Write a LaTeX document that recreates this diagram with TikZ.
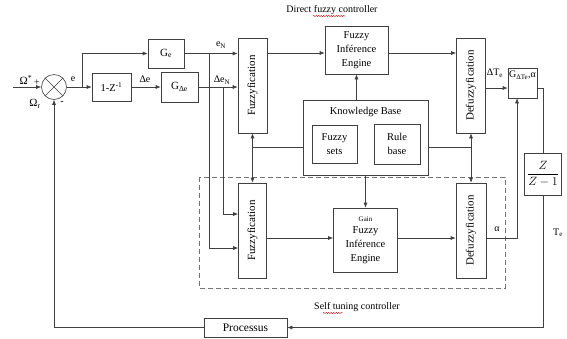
\documentclass[tikz,border=0pt]{standalone}
\usepackage{fontspec}
\setmainfont{Liberation Serif}
\usepackage{graphicx}
\usetikzlibrary{arrows.meta,decorations.pathmorphing}

\tikzset{
  blk/.style={draw=black!75, line width=0.6pt, inner sep=0pt, align=center, font=\fontsize{10.5}{14}\selectfont},
  vblk/.style={blk, minimum width=29pt, minimum height=95pt, font=\fontsize{11}{13}\selectfont},
  sig/.style={draw=black!75, line width=0.6pt},
  arr/.style={sig, -{Latex[length=5pt,width=4pt]}},
  darr/.style={sig, {Latex[length=5pt,width=4pt]}-{Latex[length=5pt,width=4pt]}},
  lbl/.style={inner sep=0pt, font=\fontsize{10}{12}\selectfont},
  squig/.style={draw=red!80!black, line width=0.4pt, decorate, decoration={snake, amplitude=0.6pt, segment length=2.5pt}},
}

\begin{document}
\begin{tikzpicture}[x=1pt,y=-1pt]
\useasboundingbox (0,0) rectangle (567,338);

% Summing junction
\node[draw=black!75, line width=0.6pt, circle, minimum size=25pt, inner sep=0pt] (sum) at (54,87) {};
\draw[sig] (sum.north west) -- (sum.south east) (sum.north east) -- (sum.south west);

% Gains
\node[blk, minimum width=39pt, minimum height=28pt] (dz) at (111.5,87) {1-Z\textsuperscript{-1}};
\node[blk, minimum width=36pt, minimum height=29pt, font=\fontsize{11}{13}\selectfont] (ge) at (166,53.5) {G\textsubscript{e}};
\node[blk, minimum width=37pt, minimum height=30pt, font=\fontsize{11}{13}\selectfont] (gde) at (179.5,87) {G\textsubscript{Δe}};

% Direct fuzzy controller
\node[vblk] (fuzzA) at (252.5,85.5) {\rotatebox{90}{Fuzzyfication}};
\node[blk, minimum width=63pt, minimum height=48pt] (fie) at (356.5,50) {Fuzzy\\Inférence\\Engine};
\node[vblk] (defA) at (471,85.5) {\rotatebox{90}{Defuzzyfication}};

% Knowledge base
\node[blk, minimum width=125pt, minimum height=75pt] (kb) at (365.5,137.5) {};
\node[lbl, font=\fontsize{10.5}{12}\selectfont] (kbt) at (365.5,112) {Knowledge Base};
\node[blk, minimum width=45pt, minimum height=38pt] (fsets) at (334.5,144) {Fuzzy\\sets};
\node[blk, minimum width=46pt, minimum height=40pt] (rbase) at (397,144) {Rule\\base};

% Self tuning controller
\draw[draw=black!55, line width=0.6pt, dash pattern=on 5pt off 3pt] (199,177) rectangle (505,288);
\node[vblk, minimum width=28pt] (fuzzB) at (252.5,230.5) {\rotatebox{90}{Fuzzyfication}};
\node[blk, minimum width=64pt, minimum height=64pt] (gain) at (365.5,240) {{\fontsize{7}{8}\selectfont Gain}\\[-2pt]Fuzzy\\Inférence\\Engine};
\node[vblk, minimum width=30pt] (defB) at (471,230.5) {\rotatebox{90}{Defuzzyfication}};

% Output side
\node[blk, minimum width=29pt, minimum height=30pt] (gbox) at (522.5,83) {};
\node[lbl, anchor=north] (gtxt) at (522.5,71) {G\textsubscript{ΔTe},α};
\node[blk, minimum width=37pt, minimum height=42pt, font=\fontsize{12.5}{14}\selectfont] (zbox) at (543,174) {$\displaystyle\frac{Z}{Z-1}$};
\node[blk, minimum width=83pt, minimum height=19pt, font=\fontsize{11.5}{13}\selectfont] (proc) at (245.5,327.5) {Processus};

% Rows and bends
\coordinate (row1) at (0,53);
\coordinate (row2) at (0,88);
\coordinate (row3) at (0,238);
\coordinate (kbrow) at (0,147);
\coordinate (split) at (82,87);
\coordinate (eNd) at (209,248);
\coordinate (dNd) at (223,214);
\coordinate (acol) at (517,238);

% Loop
\draw[arr] (13,87) -- (sum.west);
\draw[sig] (sum.east) -- (split);
\draw[arr] (split) -- (dz.west);
\draw[arr] (split) |- (ge.west);
\draw[arr] (dz.east) -- (gde.west);
\draw[arr] (ge.east) -- (ge.east -| fuzzA.west);
\draw[arr] (gde.east) -- (gde.east -| fuzzA.west);
\draw[arr] (ge.east -| eNd) -- (eNd) -- (eNd -| fuzzB.west);
\draw[arr] (gde.east -| dNd) -- (dNd) -- (dNd -| fuzzB.west);

% Direct path
\draw[arr] (fuzzA.east |- row1) -- (fie.west |- row1);
\draw[arr] (fie.east |- row1) -- (defA.west |- row1);
\draw[arr] (kb.north -| fie.south) -- (fie.south);
\draw[darr] (fuzzA.south) -- (fuzzB.north);
\draw[darr] (defA.south) -- (defB.north);
\draw[sig] (kb.west |- kbrow) -- (kbrow -| fuzzA.south);
\draw[sig] (kb.east |- kbrow) -- (kbrow -| defA.south);
\draw[arr] (kb.south) -- (gain.north);

% Tuning path
\draw[arr] (fuzzB.east |- row3) -- (gain.west |- row3);
\draw[arr] (gain.east |- row3) -- (defB.west |- row3);
\draw[arr] (defB.east |- row3) -- (acol) -- (acol |- gbox.south);
\draw[arr] (defA.east |- row2) -- (gbox.west |- row2);
\draw[sig] (gbox.east |- row2) -| (zbox.north);
\draw[arr] (zbox.south) |- (proc.east);
\draw[arr] (proc.west) -| (sum.south);

% Labels
\node[lbl, font=\fontsize{11}{12}\selectfont] (wref) at (26,80) {Ω\textsuperscript{*}};
\node[lbl] (plus) at (37,83) {+};
\node[lbl, font=\fontsize{11}{12}\selectfont] (wr) at (35,104) {Ω\textsubscript{r}};
\node[lbl] (minus) at (62,103) {-};
\node[lbl] (el) at (73,79) {e};
\node[lbl] (del) at (145,79) {Δe};
\node[lbl] (enl) at (221,45) {e\textsubscript{N}};
\node[lbl] (denl) at (222,80) {Δe\textsubscript{N}};
\node[lbl] (dtl) at (495,73) {ΔT\textsubscript{e}};
\node[lbl] (al) at (497,229) {α};
\node[lbl] (tel) at (558,233) {T\textsubscript{e}};
\node[lbl] (dtitle) at (332,10) {Direct fuzzy controller};
\node[lbl] (stitle) at (357,307) {Self tuning controller};

% Spelling marks
\draw[squig] (313,16) -- (345,16);
\draw[squig] (323,313) -- (343,313);
\end{tikzpicture}
\end{document}
